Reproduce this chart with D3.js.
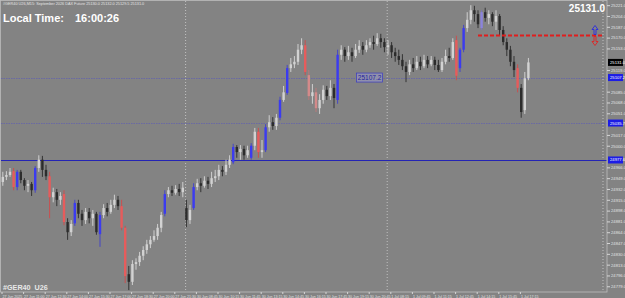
<!DOCTYPE html>
<html>
<head>
<meta charset="utf-8">
<script src="https://cdn.jsdelivr.net/npm/d3@7"></script>
<style>
  html, body { margin: 0; padding: 0; background: #838383; overflow: hidden; }
  svg { display: block; font-family: "Liberation Sans", Arial, sans-serif; }
  .axis path { display: none; }
  .axis line { stroke: #d6d6d6; }
  .axis text { fill: #e2e2e2; }
</style>
</head>
<body>
<div id="chart"></div>
<script>
// M15 bars, three sessions
const days = ["27 Jun", "30 Jun", "1 Jul"];
const barsPerDay = [51, 56, 40];
const firstBar = ["09:30", "08:00", "08:00"];

const opens = [
  24943, 24951, 24954, 24960, 24935, 24959, 24946, 24937, 24940, 24930,
  24965, 24978, 24962, 24952, 24919, 24927, 24915, 24924, 24880, 24864,
  24878, 24910, 24893, 24883, 24896, 24886, 24893, 24861, 24891, 24902,
  24896, 24907, 24915, 24905, 24871, 24798, 24786, 24814, 24817, 24827,
  24836, 24845, 24852, 24858, 24871, 24893, 24924, 24930, 24926, 24932,
  24927, 24902, 24883, 24902, 24935, 24941, 24937, 24945, 24940, 24949,
  24952, 24962, 24959, 24970, 24974, 24998, 24990, 24995, 24985, 24981,
  25000, 25022, 24990, 24993, 25029, 25037, 25031, 25044, 25072, 25083,
  25122, 25128, 25132, 25151, 25158, 25111, 25078, 25084, 25059, 25072,
  25088, 25078, 25091, 25072, 25143, 25151, 25141, 25147, 25141, 25151,
  25157, 25151, 25158, 25163, 25160, 25169, 25163, 25155, 25158, 25147,
  25141, 25135, 25125, 25116, 25128, 25122, 25132, 25125, 25135, 25128,
  25135, 25127, 25119, 25132, 25141, 25138, 25166, 25122, 25151, 25185,
  25198, 25213, 25207, 25185, 25210, 25201, 25207, 25195, 25204, 25182,
  25163, 25151, 25132, 25122, 25091, 25056, 25106
];
const highs = [
  24959, 24960, 24965, 24965, 24962, 24962, 24949, 24946, 24943, 24968,
  24985, 24984, 24970, 24959, 24934, 24932, 24927, 24930, 24886, 24883,
  24915, 24915, 24899, 24902, 24902, 24899, 24896, 24896, 24908, 24910,
  24915, 24923, 24921, 24915, 24874, 24811, 24820, 24823, 24833, 24842,
  24852, 24858, 24867, 24877, 24896, 24930, 24935, 24937, 24938, 24940,
  24943, 24915, 24907, 24941, 24948, 24949, 24952, 24951, 24959, 24962,
  24970, 24968, 24978, 24985, 25003, 25001, 25001, 25000, 25000, 25004,
  25028, 25028, 25009, 25034, 25048, 25045, 25050, 25077, 25094, 25127,
  25138, 25141, 25160, 25169, 25166, 25119, 25097, 25091, 25081, 25095,
  25094, 25103, 25097, 25151, 25158, 25155, 25157, 25154, 25160, 25166,
  25163, 25166, 25169, 25173, 25177, 25176, 25169, 25166, 25163, 25154,
  25151, 25144, 25132, 25135, 25138, 25141, 25140, 25143, 25141, 25141,
  25140, 25135, 25138, 25151, 25154, 25169, 25173, 25154, 25190, 25210,
  25221, 25220, 25213, 25213, 25217, 25213, 25210, 25213, 25207, 25188,
  25169, 25157, 25141, 25128, 25097, 25116, 25138
];
const lows = [
  24937, 24946, 24951, 24930, 24930, 24941, 24930, 24927, 24921, 24926,
  24959, 24951, 24946, 24886, 24911, 24905, 24907, 24875, 24852, 24858,
  24874, 24886, 24874, 24877, 24878, 24874, 24860, 24841, 24886, 24889,
  24893, 24902, 24899, 24867, 24784, 24773, 24781, 24805, 24811, 24820,
  24830, 24839, 24849, 24852, 24864, 24889, 24919, 24921, 24923, 24921,
  24919, 24872, 24877, 24899, 24930, 24927, 24934, 24932, 24935, 24943,
  24946, 24952, 24954, 24965, 24971, 24981, 24978, 24978, 24981, 24978,
  24993, 24981, 24981, 24990, 25022, 25025, 25025, 25040, 25069, 25080,
  25116, 25122, 25127, 25144, 25111, 25072, 25066, 25053, 25050, 25066,
  25072, 25072, 25059, 25066, 25135, 25132, 25135, 25132, 25138, 25146,
  25143, 25147, 25154, 25151, 25157, 25154, 25147, 25143, 25138, 25132,
  25127, 25119, 25100, 25111, 25116, 25119, 25119, 25122, 25122, 25125,
  25119, 25116, 25116, 25128, 25132, 25135, 25103, 25116, 25147, 25179,
  25191, 25195, 25185, 25182, 25195, 25191, 25188, 25182, 25173, 25158,
  25141, 25125, 25108, 25084, 25044, 25050, 25103
];
const closes = [
  24951, 24954, 24959, 24935, 24959, 24946, 24937, 24940, 24930, 24965,
  24978, 24962, 24952, 24919, 24927, 24915, 24921, 24880, 24864, 24877,
  24910, 24893, 24883, 24896, 24886, 24893, 24864, 24891, 24902, 24896,
  24907, 24915, 24905, 24871, 24795, 24786, 24814, 24817, 24827, 24836,
  24845, 24852, 24858, 24871, 24891, 24924, 24930, 24926, 24932, 24927,
  24934, 24883, 24899, 24935, 24941, 24937, 24945, 24940, 24949, 24952,
  24962, 24959, 24970, 24978, 24998, 24990, 24995, 24985, 24993, 25000,
  25022, 24990, 24993, 25029, 25037, 25031, 25044, 25072, 25084, 25122,
  25128, 25132, 25151, 25158, 25116, 25078, 25084, 25059, 25072, 25088,
  25078, 25091, 25075, 25143, 25151, 25141, 25147, 25141, 25151, 25157,
  25151, 25158, 25163, 25160, 25169, 25163, 25155, 25158, 25147, 25141,
  25135, 25125, 25116, 25128, 25122, 25132, 25125, 25135, 25128, 25135,
  25127, 25119, 25132, 25141, 25138, 25163, 25110, 25151, 25185, 25198,
  25213, 25207, 25191, 25210, 25201, 25207, 25195, 25204, 25182, 25163,
  25151, 25132, 25119, 25091, 25053, 25106, 25131
];

// bars painted by the indicator
const blueBars = [4, 9, 20, 27, 45, 53, 64, 69, 73, 77, 79, 93, 127, 128];
const redBars = [3, 13, 17, 33, 34, 71, 84, 126, 143];
const pinkBars = [85, 87];
const purpleBars = [133];

const priceTicks = [
  25221, 25204, 25187, 25170, 25153, 25136, 25119, 25102, 25085, 25068,
  25051, 25034, 25017, 25000, 24983, 24966, 24949, 24932, 24915, 24898,
  24881, 24864, 24847, 24830, 24813, 24796, 24779
];
const levelPrices = [25107.2, 25035.7, 24977.6];
const targetPrice = 25174.1;
const targetFromBar = 132;
const bidPrice = 25131.0;
const priceDomain = [24770, 25226];

class CandleChart {
  constructor(_config) {
    this.config = {
      parentElement: _config.parentElement,
      containerWidth: _config.containerWidth || 625,
      containerHeight: _config.containerHeight || 298,
      plot: { left: 1, top: 1, right: 607, bottom: 292 },
      barStep: 3.6,
    };
    this.initVis();
  }

  initVis() {
    let vis = this;
    const p = vis.config.plot;

    vis.times = [];
    days.forEach((day, d) => {
      const [h, m] = firstBar[d].split(":").map(Number);
      for (let k = 0; k < barsPerDay[d]; k++) {
        const mins = h * 60 + m + k * 15;
        const hh = String(Math.floor(mins / 60)).padStart(2, "0");
        const mm = String(mins % 60).padStart(2, "0");
        vis.times.push(`${day} ${hh}:${mm}`);
      }
    });

    vis.x = d3
      .scaleBand()
      .domain(vis.times)
      .range([p.left, p.left + vis.times.length * vis.config.barStep]);
    vis.y = d3.scaleLinear().domain(priceDomain).range([p.bottom, p.top + 1]);

    vis.svg = d3
      .select(vis.config.parentElement)
      .append("svg")
      .attr("width", vis.config.containerWidth)
      .attr("height", vis.config.containerHeight);

    vis.svg
      .append("rect")
      .attr("width", vis.config.containerWidth)
      .attr("height", vis.config.containerHeight)
      .attr("fill", "#838383");

    this.renderVis();
  }

  candleColor(i) {
    if (blueBars.includes(i)) return { body: "#3b3bf0", wick: "#4040cc" };
    if (redBars.includes(i)) return { body: "#e65c5c", wick: "#d04a4a" };
    if (pinkBars.includes(i)) return { body: "#d48a8a", wick: "#c07878" };
    if (purpleBars.includes(i)) return { body: "#8c84dc", wick: "#7a72c8" };
    return closes[i] >= opens[i]
      ? { body: "#d2d2d2", wick: "#d8d8d8" }
      : { body: "#2c2c2c", wick: "#2a2a2a" };
  }

  renderVis() {
    let vis = this;
    const p = vis.config.plot;
    const half = vis.x.bandwidth() / 2;
    const cx = (i) => vis.x(vis.times[i]) + half;

    // period separators + right marker
    const seps = [51, 107].map((i) => vis.x(vis.times[i]) + 1);
    seps.push(603);
    vis.svg
      .selectAll(".sep")
      .data(seps)
      .join("line")
      .attr("class", "sep")
      .attr("x1", (d) => d)
      .attr("x2", (d) => d)
      .attr("y1", p.top)
      .attr("y2", p.bottom)
      .attr("stroke", "#d0d0d0")
      .attr("stroke-width", 0.8)
      .attr("stroke-dasharray", "1,2");

    // horizontal levels
    vis.svg
      .selectAll(".level")
      .data(levelPrices)
      .join("line")
      .attr("class", "level")
      .attr("x1", p.left)
      .attr("x2", p.right)
      .attr("y1", (d) => Math.round(vis.y(d)) + 0.5)
      .attr("y2", (d) => Math.round(vis.y(d)) + 0.5)
      .attr("stroke", (d, i) => (i === 2 ? "#2424b4" : "#4a4ad0"))
      .attr("stroke-width", (d, i) => (i === 2 ? 1 : 0.6))
      .attr("stroke-opacity", (d, i) => (i === 2 ? 1 : 0.75))
      .attr("stroke-dasharray", (d, i) => (i === 2 ? null : "1.5,1"));

    // candles
    const idx = d3.range(vis.times.length);
    vis.svg
      .selectAll(".wick")
      .data(idx)
      .join("line")
      .attr("class", "wick")
      .attr("x1", (i) => cx(i))
      .attr("x2", (i) => cx(i))
      .attr("y1", (i) => vis.y(highs[i]))
      .attr("y2", (i) => vis.y(lows[i]))
      .attr("stroke", (i) => vis.candleColor(i).wick)
      .attr("stroke-width", 0.9);

    vis.svg
      .selectAll(".body")
      .data(idx)
      .join("rect")
      .attr("class", "body")
      .attr("x", (i) => cx(i) - 1.2)
      .attr("width", 2.4)
      .attr("y", (i) => vis.y(Math.max(opens[i], closes[i])))
      .attr("height", (i) =>
        Math.max(1, Math.abs(vis.y(opens[i]) - vis.y(closes[i])))
      )
      .attr("fill", (i) => vis.candleColor(i).body);

    // target line
    const ty = Math.round(vis.y(targetPrice)) + 0.5;
    vis.svg
      .append("line")
      .attr("x1", cx(targetFromBar))
      .attr("x2", 603)
      .attr("y1", ty)
      .attr("y2", ty)
      .attr("stroke", "#e01e1e")
      .attr("stroke-width", 2)
      .attr("stroke-dasharray", "4,2");

    // arrows at the target
    vis.svg
      .append("path")
      .attr("d", `M595,${ty - 10} l-3,4 h2 v5 h2 v-5 h2 z`)
      .attr("fill", "none")
      .attr("stroke", "#2a2ae0")
      .attr("stroke-width", 0.9);
    vis.svg
      .append("path")
      .attr("d", `M595,${ty + 10} l-3,-4 h2 v-5 h2 v5 h2 z`)
      .attr("fill", "none")
      .attr("stroke", "#e02424")
      .attr("stroke-width", 0.9);

    // level label on chart
    const ly = vis.y(levelPrices[0]);
    const lx = cx(98) + 1;
    vis.svg
      .append("rect")
      .attr("x", lx)
      .attr("y", ly - 4.5)
      .attr("width", 26)
      .attr("height", 9)
      .attr("fill", "#9090ac")
      .attr("stroke", "#3a3ac4")
      .attr("stroke-width", 0.7);
    vis.svg
      .append("text")
      .attr("x", lx + 13)
      .attr("y", ly + 2.3)
      .attr("text-anchor", "middle")
      .attr("font-size", 6.5)
      .attr("fill", "#1e1ea0")
      .text(d3.format(".1f")(levelPrices[0]));

    // frame
    vis.svg
      .append("rect")
      .attr("x", p.left - 0.5)
      .attr("y", p.top - 0.5)
      .attr("width", p.right - p.left + 0.5)
      .attr("height", p.bottom - p.top + 0.5)
      .attr("fill", "none")
      .attr("stroke", "#bdbdbd")
      .attr("stroke-width", 0.8);

    // price boxes sit on the axis, so skip ticks hidden under them
    const boxes = [
      { v: bidPrice, fill: "#000000" },
      ...levelPrices.map((v) => ({ v, fill: "#1c1ce6" })),
    ];
    const freeTicks = priceTicks.filter((t) =>
      boxes.every((b) => Math.abs(vis.y(t) - vis.y(b.v)) > 6.5)
    );

    const yAxis = d3
      .axisRight(vis.y)
      .tickValues(freeTicks)
      .tickSize(3)
      .tickPadding(1)
      .tickFormat(d3.format(".1f"));
    vis.svg
      .append("g")
      .attr("class", "axis")
      .attr("transform", `translate(${p.right},0)`)
      .call(yAxis)
      .selectAll("text")
      .attr("font-size", 4.2);

    const xTicks = vis.times.filter((t, i) => i % 6 === 0);
    const xAxis = d3
      .axisBottom(vis.x)
      .tickValues(xTicks)
      .tickSize(2)
      .tickPadding(1)
      .tickFormat((t, i) => (i === 0 ? "27 Jun 2025" : t));
    const gx = vis.svg
      .append("g")
      .attr("class", "axis")
      .attr("transform", `translate(0,${p.bottom})`)
      .call(xAxis);
    gx.selectAll(".tick").attr("transform", (t) => `translate(${vis.x(t) + 1},0)`);
    gx.selectAll("text")
      .attr("font-size", 3.6)
      .attr("text-anchor", "start")
      .attr("x", 0.5);

    const bg = vis.svg
      .selectAll(".pbox")
      .data(boxes)
      .join("g")
      .attr("class", "pbox")
      .attr("transform", (d) => `translate(${p.right + 1},${vis.y(d.v)})`);
    bg.append("rect")
      .attr("x", 0)
      .attr("y", -3.5)
      .attr("width", 15)
      .attr("height", 7)
      .attr("fill", (d) => d.fill);
    bg.append("text")
      .attr("x", 2)
      .attr("y", 1.5)
      .attr("font-size", 4.2)
      .attr("fill", "#ffffff")
      .text((d) => d3.format(".1f")(d.v));

    // overlay texts
    vis.svg
      .append("text")
      .attr("x", 3)
      .attr("y", 5)
      .attr("font-size", 3.8)
      .attr("fill", "#e4e4e4")
      .text("#GER40 U26,M15:  September 2026 DAX Future  25130.0 25132.0 25129.5 25131.0");

    vis.svg
      .append("text")
      .attr("x", 3)
      .attr("y", 22)
      .attr("font-size", 11)
      .attr("font-weight", "bold")
      .attr("fill", "#ffffff")
      .text("Local Time:");
    vis.svg
      .append("text")
      .attr("x", 75)
      .attr("y", 22)
      .attr("font-size", 11)
      .attr("font-weight", "bold")
      .attr("fill", "#ffffff")
      .text("16:00:26");

    vis.svg
      .append("text")
      .attr("x", 605)
      .attr("y", 11.5)
      .attr("text-anchor", "end")
      .attr("font-size", 10)
      .attr("font-weight", "bold")
      .attr("fill", "#ffffff")
      .text(d3.format(".1f")(bidPrice));

    vis.svg
      .append("text")
      .attr("x", 3)
      .attr("y", 289.5)
      .attr("font-size", 7.2)
      .attr("font-weight", "bold")
      .attr("fill", "#e8e8e8")
      .attr("xml:space", "preserve")
      .text("#GER40  U26");
  }
}

new CandleChart({ parentElement: "#chart" });
</script>
</body>
</html>
